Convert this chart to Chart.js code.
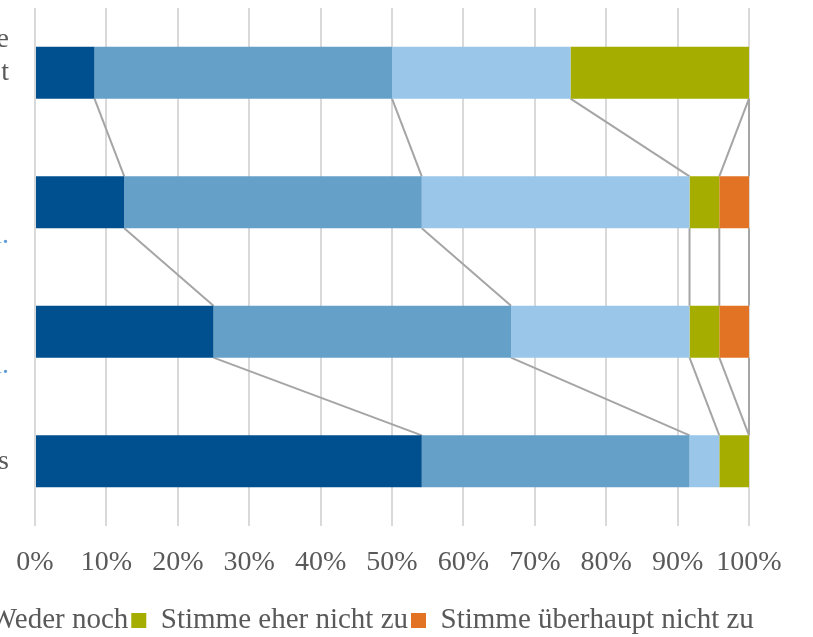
<!DOCTYPE html>
<html>
<head>
<meta charset="utf-8">
<script src="https://cdn.jsdelivr.net/npm/chart.js@4/dist/chart.umd.min.js"></script>
<style>
html,body{margin:0;padding:0;overflow:hidden;background:#fff;width:813px;height:637px;}
#wrap{position:absolute;top:0;}
canvas{display:block;}
</style>
</head>
<body>
<div id="wrap"><canvas id="c"></canvas></div>
<script>
// ---- data ----
const categories = [["e", "t", ""], ["", "", "l."], ["", "", "l."], "s"];
const seriesNames = ["Stimme voll zu", "Stimme eher zu", "Weder noch", "Stimme eher nicht zu", "Stimme überhaupt nicht zu"];
const stimmeVollZu = [8.33, 12.5, 25, 54.17];
const stimmeEherZu = [41.67, 41.67, 41.67, 37.5];
const wederNoch = [25, 37.5, 25, 4.17];
const stimmeEherNichtZu = [25, 4.17, 4.17, 4.17];
const stimmeUeberhauptNichtZu = [0, 4.17, 4.17, 0];
const seriesColors = ["#00508f", "#65a0c9", "#9ac6e9", "#a5ae00", "#e37324"];
const labelColors = ["#595959", "#5b9bd5", "#5b9bd5", "#595959"];

// ---- layout helpers ----
const FONT = '"Liberation Serif", "Times New Roman", serif';
const FS = 28, LFS = 29, BOX = 15, LEG_PAD = 3;
const WIN_W = 813, CANVAS_H = 645;
const PLOT_LEFT = 35, PLOT_RIGHT = 749, PLOT_BOTTOM = 526, WEDER_END = 128;

const mctx = document.createElement('canvas').getContext('2d');
mctx.font = LFS + 'px ' + FONT;
let legEnd = LEG_PAD;
for (let k = 0; k < 3; k++) {
  legEnd += BOX + LFS / 2 + mctx.measureText(seriesNames[k]).width;
  if (k < 2) legEnd += LEG_PAD;
}
const SHIFT = Math.round(legEnd - WEDER_END);
const LEGEND_H = LFS + LEG_PAD + 10;

const canvas = document.getElementById('c');
canvas.width = SHIFT + WIN_W;
canvas.height = CANVAS_H;
canvas.style.width = (SHIFT + WIN_W) + 'px';
canvas.style.height = CANVAS_H + 'px';
document.getElementById('wrap').style.left = (-SHIFT) + 'px';

Chart.defaults.font.family = FONT;
Chart.defaults.color = '#595959';

const seriesData = [stimmeVollZu, stimmeEherZu, wederNoch, stimmeEherNichtZu, stimmeUeberhauptNichtZu];

const seriesLines = {
  id: 'seriesLines',
  beforeDatasetsDraw(chart) {
    const ctx = chart.ctx, xs = chart.scales.x;
    const ds = chart.data.datasets;
    const meta = chart.getDatasetMeta(0);
    ctx.save();
    ctx.strokeStyle = '#a5a5a5';
    ctx.lineWidth = 2;
    for (let i = 0; i < categories.length - 1; i++) {
      const a = meta.data[i], b = meta.data[i + 1];
      const y0 = a.y + a.height / 2, y1 = b.y - b.height / 2;
      let c0 = 0, c1 = 0;
      for (let k = 0; k < ds.length; k++) {
        c0 += ds[k].data[i];
        c1 += ds[k].data[i + 1];
        ctx.beginPath();
        ctx.moveTo(xs.getPixelForValue(Math.min(c0, 100)), y0);
        ctx.lineTo(xs.getPixelForValue(Math.min(c1, 100)), y1);
        ctx.stroke();
      }
    }
    ctx.restore();
  }
};

new Chart(canvas, {
  type: 'bar',
  data: {
    labels: categories,
    datasets: seriesNames.map((name, k) => ({
      label: name,
      data: seriesData[k],
      backgroundColor: seriesColors[k],
      borderWidth: 0,
      barPercentage: 0.4,
      categoryPercentage: 1.0
    }))
  },
  options: {
    indexAxis: 'y',
    responsive: false,
    animation: false,
    devicePixelRatio: 1,
    events: [],
    layout: { padding: { top: 8, bottom: 0, left: 0, right: 0 } },
    plugins: {
      legend: {
        position: 'bottom',
        align: 'start',
        labels: { boxWidth: BOX, boxHeight: BOX, padding: LEG_PAD, font: { size: LFS }, color: '#595959' }
      },
      tooltip: { enabled: false }
    },
    scales: {
      x: {
        stacked: true,
        min: 0,
        max: 100,
        ticks: {
          stepSize: 10,
          callback: v => v + '%',
          font: { size: FS },
          color: '#595959',
          padding: 20,
          maxRotation: 0,
          autoSkip: false
        },
        grid: { color: '#d9d9d9', lineWidth: 2, drawTicks: false },
        border: { display: false },
        afterFit: s => { s.height = CANVAS_H - LEGEND_H - PLOT_BOTTOM; s.paddingLeft = 0; s.paddingRight = WIN_W - PLOT_RIGHT; }
      },
      y: {
        stacked: true,
        ticks: {
          font: { size: FS },
          color: c => labelColors[c.index] || '#595959',
          padding: PLOT_LEFT - 9,
          autoSkip: false
        },
        grid: { display: false, drawTicks: false },
        border: { display: false },
        afterFit: s => { s.width = SHIFT + PLOT_LEFT; s.paddingTop = 0; s.paddingBottom = 0; }
      }
    }
  },
  plugins: [seriesLines]
});
</script>
</body>
</html>
